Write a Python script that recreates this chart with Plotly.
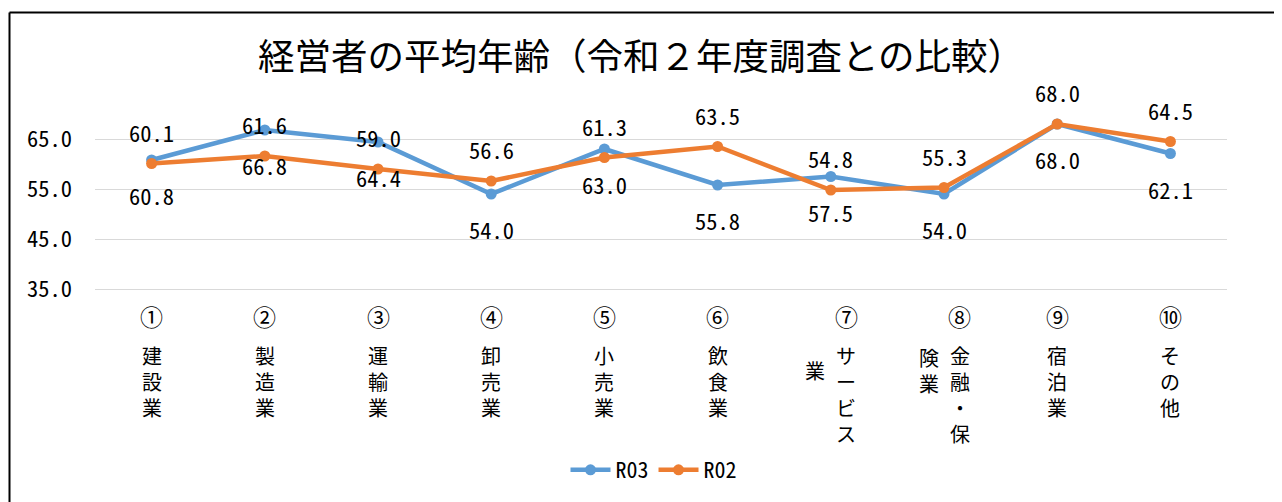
import plotly.graph_objects as go

# ---- data ----
categories = ["①建設業", "②製造業", "③運輸業", "④卸売業", "⑤小売業",
              "⑥飲食業", "⑦サービス業", "⑧金融・保険業", "⑨宿泊業", "⑩その他"]
r03 = [60.8, 66.8, 64.4, 54.0, 63.0, 55.8, 57.5, 54.0, 68.0, 62.1]
r02 = [60.1, 61.6, 59.0, 56.6, 61.3, 63.5, 54.8, 55.3, 68.0, 64.5]
y_ticks = [35, 45, 55, 65]
title = "経営者の平均年齢（令和２年度調査との比較）"

BLUE = "#5B9BD5"
ORANGE = "#ED7D31"
FONT = "Noto Sans Mono CJK JP, Noto Sans CJK JP, sans-serif"
CJK = "Noto Sans CJK JP, sans-serif"

# page offset (body margin) so targets are in screen pixels
OFF = 8
W, H = 1282, 502
PLOT_L, PLOT_R = 95 - OFF, 1227 - OFF
AXIS_Y = 289 - OFF
PX_PER_UNIT = 5.0
Y_MAX = 72
ML = PLOT_L
MR = W - PLOT_R
MB = H - AXIS_Y
MT = AXIS_Y - int((Y_MAX - 35) * PX_PER_UNIT)
PLOT_H = AXIS_Y - MT

fig = go.Figure()
fig.add_trace(go.Scatter(x=categories, y=r03, name="R03", mode="lines+markers",
                         line=dict(color=BLUE, width=4.5),
                         marker=dict(size=11, color=BLUE)))
fig.add_trace(go.Scatter(x=categories, y=r02, name="R02", mode="lines+markers",
                         line=dict(color=ORANGE, width=4.5),
                         marker=dict(size=11, color=ORANGE)))

annotations = []
# data labels: R02 above, R03 below
for c, v in zip(categories, r02):
    annotations.append(dict(x=c, y=v, xref="x", yref="y", text=f"{v:.1f}",
                            showarrow=False, yshift=32, yanchor="middle",
                            font=dict(family=FONT, size=22.5, color="#000")))
for c, v in zip(categories, r03):
    annotations.append(dict(x=c, y=v, xref="x", yref="y", text=f"{v:.1f}",
                            showarrow=False, yshift=-35, yanchor="middle",
                            font=dict(family=FONT, size=22.5, color="#000")))

# vertical category labels (screen pixel targets, minus OFF)
NUM_Y = 316 - OFF
CHAR_Y0 = 355 - OFF
CH_SIZE = 20
PITCH = CH_SIZE * 1.3
COL_GAP = 31
PER_COL = 4
block_center = (NUM_Y + CHAR_Y0 + (PER_COL - 1) * 23.6) / 2
for c in categories:
    num, body = c[0], c[1:]
    cols = [body[i:i + PER_COL] for i in range(0, len(body), PER_COL)]
    ncol = len(cols)
    for ci, col in enumerate(cols):
        xs = (ncol - 1) / 2 * COL_GAP - ci * COL_GAP
        if ci == 0:
            annotations.append(dict(x=c, y=0, xref="x", yref="paper", text=num,
                                    showarrow=False, xshift=xs, yshift=-(NUM_Y - AXIS_Y),
                                    yanchor="middle",
                                    font=dict(family=CJK, size=23, color="#000")))
            center = CHAR_Y0 + (len(col) - 1) / 2 * PITCH
        else:
            center = block_center
        annotations.append(dict(x=c, y=0, xref="x", yref="paper", text="<br>".join(col),
                                showarrow=False, xshift=xs, yshift=-(center - AXIS_Y),
                                yanchor="middle", align="center",
                                font=dict(family=CJK, size=CH_SIZE, color="#000")))

# outer border (top and left visible)
def px_x(p):
    return (p - ML) / (W - ML - MR)

def px_y(p):
    return (AXIS_Y - p) / PLOT_H

shapes = [
    dict(type="line", xref="paper", yref="paper", x0=px_x(9.5 - OFF), x1=px_x(1300),
         y0=px_y(12.5 - OFF), y1=px_y(12.5 - OFF), line=dict(color="#000", width=2)),
    dict(type="line", xref="paper", yref="paper", x0=px_x(9.5 - OFF), x1=px_x(9.5 - OFF),
         y0=px_y(12.5 - OFF), y1=px_y(520), line=dict(color="#000", width=2)),
]

fig.update_layout(
    width=W, height=H,
    margin=dict(l=ML, r=MR, t=MT, b=MB, autoexpand=False),
    paper_bgcolor="white", plot_bgcolor="white",
    title=dict(text=title, x=(641 - OFF) / W, xref="container", xanchor="center",
               y=1 - (57 - OFF) / H, yref="container", yanchor="middle",
               font=dict(family=CJK, size=36.5, color="#000")),
    xaxis=dict(type="category", showticklabels=False, showgrid=False,
               showline=True, linecolor="#D9D9D9", linewidth=1,
               range=[-0.5, len(categories) - 0.5], zeroline=False),
    yaxis=dict(range=[35, Y_MAX], tickvals=y_ticks,
               ticktext=[f"{t:.1f}" for t in y_ticks],
               showgrid=True, gridcolor="#D9D9D9", gridwidth=1,
               zeroline=False, showline=False, ticks="",
               ticklabelstandoff=22,
               tickfont=dict(family=FONT, size=22.5, color="#000")),
    legend=dict(orientation="h", x=px_x(654 - OFF), xanchor="center",
                y=px_y(470 - OFF), yanchor="middle",
                font=dict(family=FONT, size=22, color="#000"),
                itemwidth=40, bgcolor="rgba(0,0,0,0)"),
    annotations=annotations,
    shapes=shapes,
    showlegend=True,
)

fig.write_html("out.html")
